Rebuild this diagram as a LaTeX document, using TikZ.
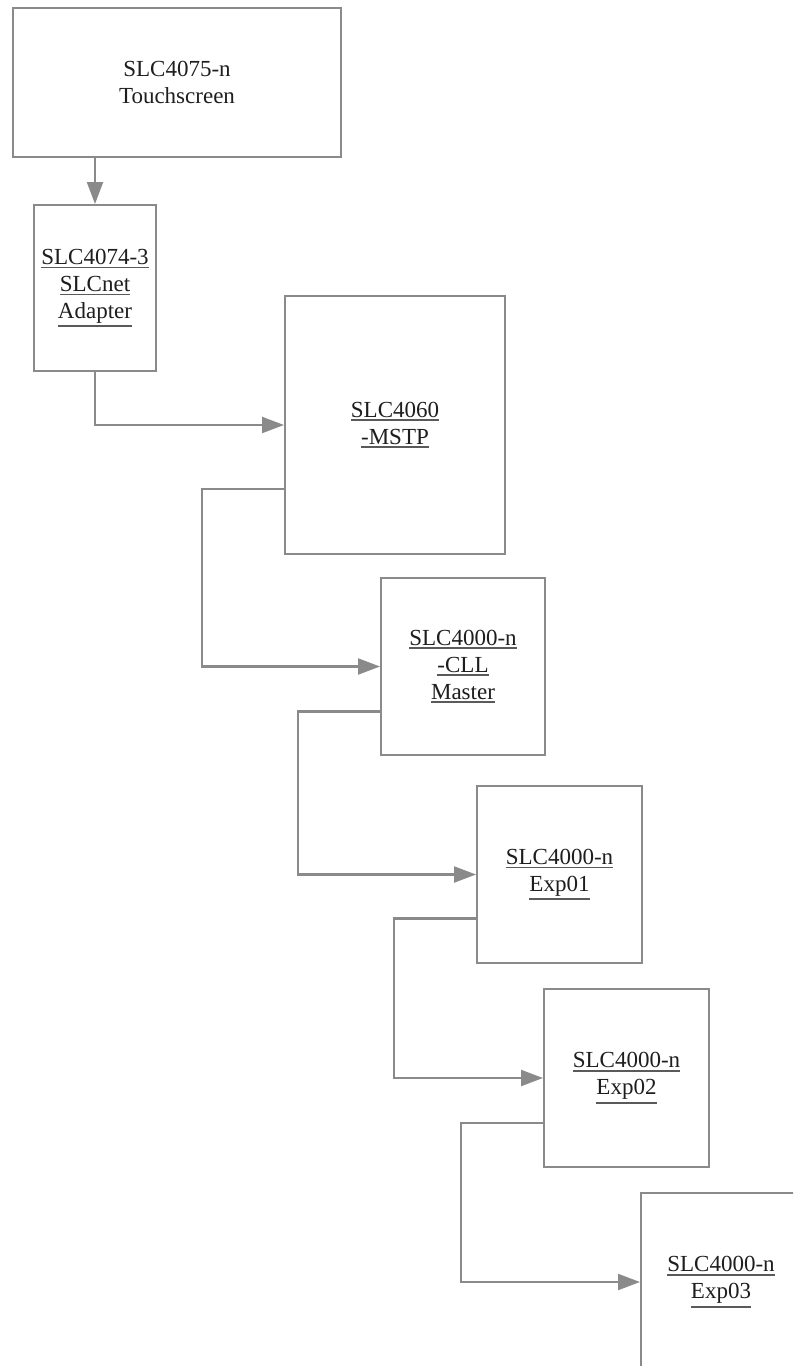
\documentclass[tikz,border=0pt]{standalone}
\usepackage{fontspec}
\setmainfont{Liberation Serif}
\usepackage{xcolor}
\usepackage{tikz}
\usetikzlibrary{arrows.meta}

\definecolor{linegray}{RGB}{138,138,138}
\definecolor{labelgray}{RGB}{30,30,30}
\definecolor{ulgray}{RGB}{90,90,90}

\newcommand{\ulabel}[1]{\setbox0=\hbox{#1}\leavevmode\rlap{\color{ulgray}\rule[\dimexpr-\dp0-4pt\relax]{\wd0}{1.8pt}}\box0}

\begin{document}
\begin{tikzpicture}[x=1pt,y=-1pt,
	unitbox/.style={draw=linegray,line width=2pt,fill=white,inner sep=0pt,align=center,text=labelgray,font=\fontsize{23}{27}\selectfont},
	link/.style={draw=linegray,line width=2.2pt,-{Triangle[length=22pt,width=16pt]}}]
	\useasboundingbox (0,0) rectangle (793,1366);
	\clip (0,0) rectangle (793,1366);
	\node[unitbox,minimum width=328pt,minimum height=149pt] (touch) at (177,82.5) {SLC4075-n\\Touchscreen};
	\node[unitbox,minimum width=122pt,minimum height=166pt] (adapter) at (95,288) {\ulabel{SLC4074-3}\\\ulabel{SLCnet}\\\ulabel{Adapter}};
	\node[unitbox,minimum width=220pt,minimum height=258pt] (mstp) at (395,425) {\ulabel{SLC4060}\\\ulabel{-MSTP}};
	\node[unitbox,minimum width=164pt,minimum height=177pt] (cll) at (463,666.5) {\ulabel{SLC4000-n}\\\ulabel{-CLL}\\\ulabel{Master}};
	\node[unitbox,minimum width=165pt,minimum height=177pt] (expa) at (559.5,874.5) {\ulabel{SLC4000-n}\\\ulabel{Exp01}};
	\node[unitbox,minimum width=165pt,minimum height=178pt] (expb) at (626.5,1078) {\ulabel{SLC4000-n}\\\ulabel{Exp02}};
	\node[unitbox,minimum width=160pt,minimum height=178pt] (expc) at (721,1282) {\ulabel{SLC4000-n}\\\ulabel{Exp03}};
	\draw[link] (touch.south -| adapter.north) -- (adapter.north);
	\draw[link] (adapter.south) |- (mstp.west);
	\foreach \from/\to/\drop in {mstp/cll/64,cll/expa/45,expa/expb/44,expb/expc/45}
		\draw[link] ([yshift=-\drop pt]\from.west) -- ++(-82,0) |- (\to.west);
\end{tikzpicture}
\end{document}
